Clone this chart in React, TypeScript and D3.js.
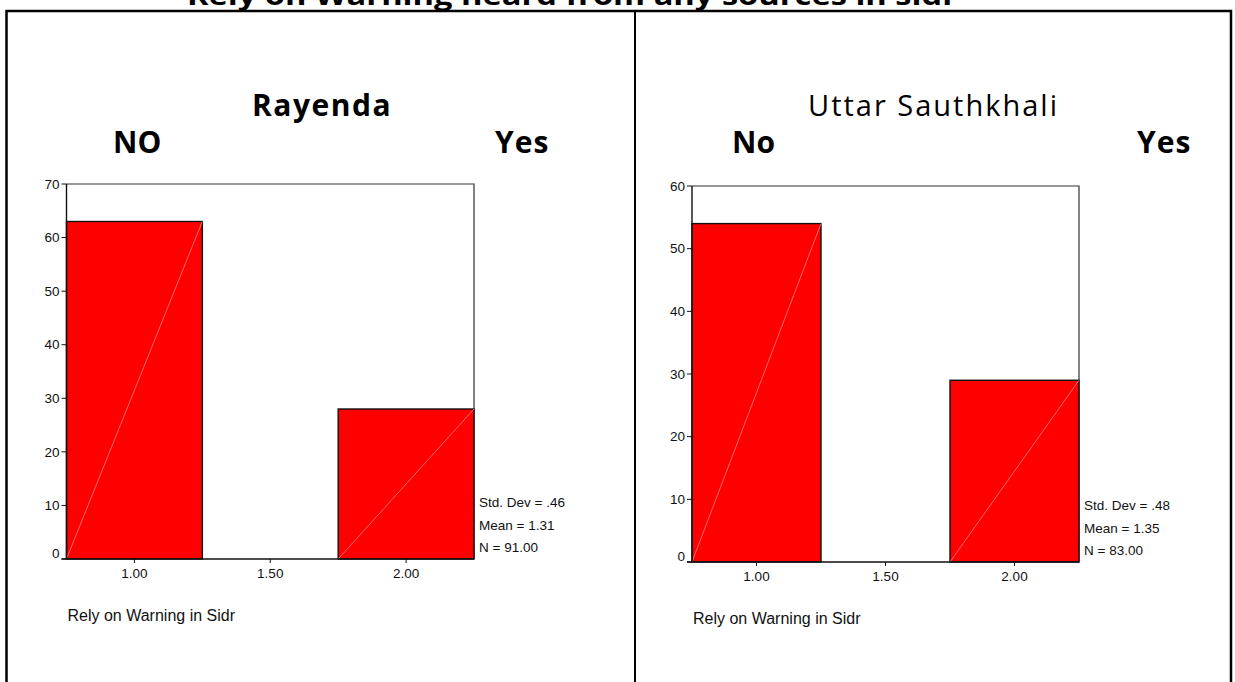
import * as d3 from "d3";

const TITLE = "Rely on Warning heard from any sources in sidr";
const X_LABEL = "Rely on Warning in Sidr";

const binCenters = [1.0, 1.5, 2.0];
const xTickValues = [1.0, 1.5, 2.0];

const rayendaCounts = [63, 0, 28];
const rayendaYTicks = [0, 10, 20, 30, 40, 50, 60, 70];
const rayendaStats = ["Std. Dev = .46", "Mean = 1.31", "N = 91.00"];

const uttarCounts = [54, 0, 29];
const uttarYTicks = [0, 10, 20, 30, 40, 50, 60];
const uttarStats = ["Std. Dev = .48", "Mean = 1.35", "N = 83.00"];

const BIN_WIDTH = 0.5;
const SANS = "'Liberation Sans', Arial, sans-serif";
const HEAD = "'Open Sans', 'Noto Sans', sans-serif";

type PanelProps = {
  name: string;
  nameBold: boolean;
  nameX: number;
  noLabel: string;
  noX: number;
  yesX: number;
  counts: number[];
  yTicks: number[];
  stats: string[];
  left: number;
  right: number;
  top: number;
  bottom: number;
};

const Panel = (p: PanelProps) => {
  const x = d3.scaleLinear().domain([0.75, 2.25]).range([p.left, p.right]);
  const y = d3
    .scaleLinear()
    .domain([0, d3.max(p.yTicks) || 70])
    .range([p.bottom, p.top]);

  return (
    <g>
      <text
        x={p.nameX}
        y={116}
        fontFamily={HEAD}
        fontSize={p.nameBold ? 30 : 29}
        fontWeight={p.nameBold ? 700 : 400}
        letterSpacing={p.nameBold ? 1.5 : 2}
      >
        {p.name}
      </text>
      <text x={p.noX} y={153} fontFamily={HEAD} fontSize={30} fontWeight={700}>
        {p.noLabel}
      </text>
      <text x={p.yesX} y={153} fontFamily={HEAD} fontSize={30} fontWeight={700} letterSpacing={1}>
        Yes
      </text>

      {/* plot frame */}
      <path
        d={`M${p.left},${p.top}H${p.right}V${p.bottom}`}
        fill="none"
        stroke="#333"
        strokeWidth={1.2}
      />

      {binCenters.map((c, i) => {
        const v = p.counts[i];
        if (!v) return null;
        const x0 = x(c - BIN_WIDTH / 2);
        const x1 = x(c + BIN_WIDTH / 2);
        const y1 = y(v);
        return (
          <g key={i}>
            <rect
              x={x0}
              y={y1}
              width={x1 - x0}
              height={y(0) - y1}
              fill="#ff0000"
              stroke="#111"
              strokeWidth={1.4}
            />
            <line
              x1={x0}
              y1={y(0)}
              x2={x1}
              y2={y1}
              stroke="#ff9a9a"
              strokeWidth={0.7}
            />
          </g>
        );
      })}

      {/* y axis */}
      <line x1={p.left} y1={p.top} x2={p.left} y2={p.bottom} stroke="#111" strokeWidth={1.4} />
      {p.yTicks.map((t) => (
        <g key={t}>
          <line x1={p.left - 5} y1={y(t)} x2={p.left} y2={y(t)} stroke="#111" strokeWidth={1} />
          <text
            x={p.left - 7}
            y={y(t) - (t === 0 ? 6 : 0)}
            dy="0.35em"
            textAnchor="end"
            fontFamily={SANS}
            fontSize={13.5}
            fill="#111"
          >
            {t}
          </text>
        </g>
      ))}

      {/* x axis */}
      <line x1={p.left - 5} y1={p.bottom} x2={p.right} y2={p.bottom} stroke="#111" strokeWidth={1.4} />
      {xTickValues.map((t) => (
        <g key={t}>
          <line x1={x(t)} y1={p.bottom} x2={x(t)} y2={p.bottom + 4} stroke="#111" strokeWidth={1} />
          <text
            x={x(t)}
            y={p.bottom + 19}
            textAnchor="middle"
            fontFamily={SANS}
            fontSize={13.5}
            fill="#111"
          >
            {d3.format(".2f")(t)}
          </text>
        </g>
      ))}

      {p.stats.map((s, i) => (
        <text
          key={s}
          x={p.right + 5}
          y={p.bottom - 52 + i * 22.5}
          fontFamily={SANS}
          fontSize={13.5}
          fill="#111"
        >
          {s}
        </text>
      ))}

      <text x={p.left + 1} y={p.bottom + 62} fontFamily={SANS} fontSize={16} fill="#111">
        {X_LABEL}
      </text>
    </g>
  );
};

export default function App() {
  return (
    <svg
      width={1235}
      height={682}
      style={{ position: "absolute", left: 0, top: 0, background: "#fff" }}
    >
      <rect x={0} y={0} width={1235} height={682} fill="#fff" />
      <text
        x={572}
        y={5}
        textAnchor="middle"
        fontFamily={HEAD}
        fontSize={27}
        fontWeight={700}
        textLength={770}
        lengthAdjust="spacingAndGlyphs"
      >
        {TITLE}
      </text>

      {/* outer table borders */}
      <path d="M6.5,690V11H1231V690" fill="none" stroke="#000" strokeWidth={2.5} />
      <line x1={635} y1={11} x2={635} y2={690} stroke="#000" strokeWidth={2} />

      <Panel
        name="Rayenda"
        nameBold={true}
        nameX={252}
        noLabel="NO"
        noX={113}
        yesX={495}
        counts={rayendaCounts}
        yTicks={rayendaYTicks}
        stats={rayendaStats}
        left={66.5}
        right={474}
        top={184}
        bottom={559}
      />
      <Panel
        name="Uttar Sauthkhali"
        nameBold={false}
        nameX={808}
        noLabel="No"
        noX={732}
        yesX={1137}
        counts={uttarCounts}
        yTicks={uttarYTicks}
        stats={uttarStats}
        left={692}
        right={1079}
        top={186}
        bottom={562}
      />
    </svg>
  );
}
